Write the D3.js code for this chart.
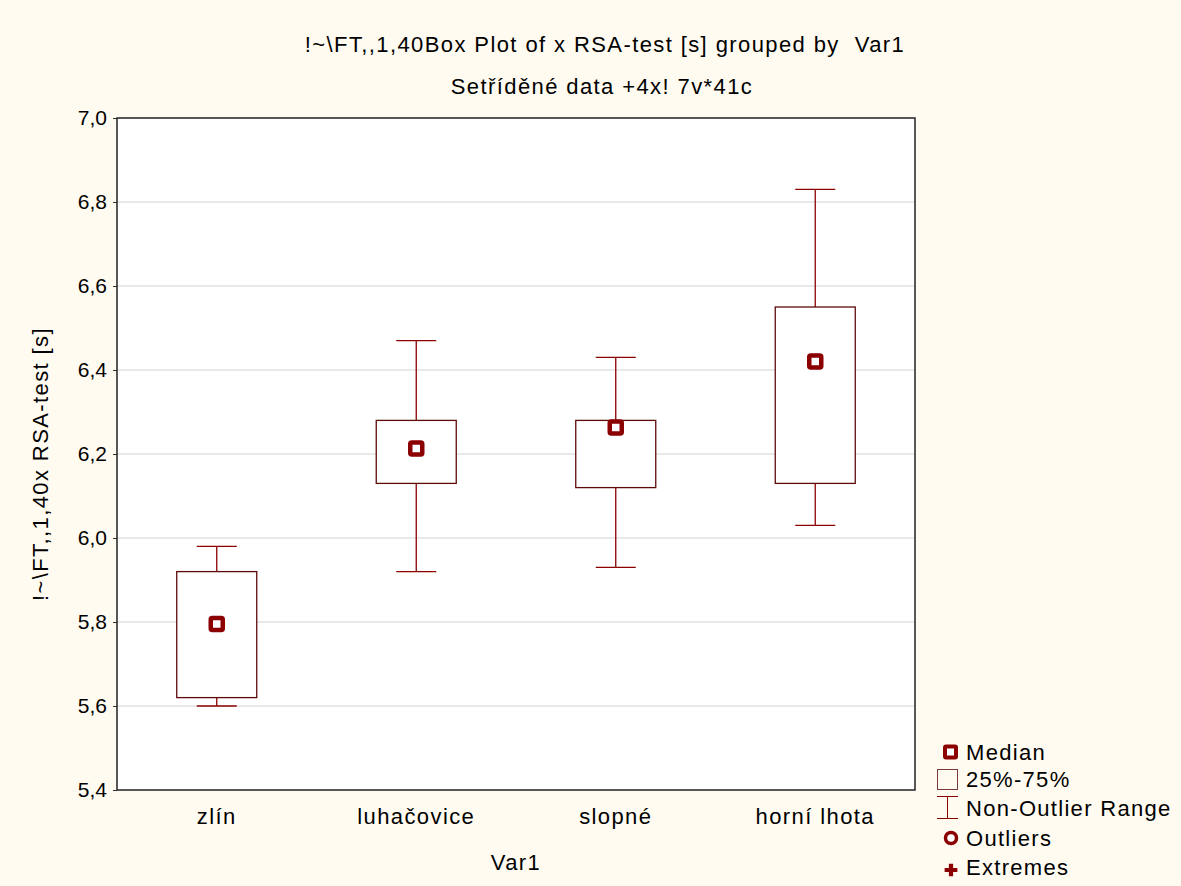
<!DOCTYPE html>
<html>
<head>
<meta charset="utf-8">
<script src="https://cdn.jsdelivr.net/npm/d3@7"></script>
<style>
body{margin:0;padding:0;background:#fffbf0;}
text{font-family:"Liberation Sans",Arial,sans-serif;fill:#000;}
</style>
</head>
<body>
<svg id="chart" width="1181" height="886"></svg>
<script>
const categories = ["zlín", "luhačovice", "slopné", "horní lhota"];
const whiskerMin = [5.60, 5.92, 5.93, 6.03];
const q1 = [5.62, 6.13, 6.12, 6.13];
const medians = [5.795, 6.213, 6.263, 6.42];
const q3 = [5.92, 6.28, 6.28, 6.55];
const whiskerMax = [5.98, 6.47, 6.43, 6.83];
const yTicks = [5.4, 5.6, 5.8, 6.0, 6.2, 6.4, 6.6, 6.8, 7.0];
const legendItems = ["Median", "25%-75%", "Non-Outlier Range", "Outliers", "Extremes"];

const svg = d3.select("#chart");
const W = 1181, H = 886;
const m = {left:117, top:118, right:915, bottom:790};
const red = "#8b0000", boxCol = "#5c0a0a";
const FS = "22px", LS = "1.4px";

svg.append("rect").attr("width", W).attr("height", H).attr("fill", "#fffbf0");

const x = d3.scaleBand().domain(categories).range([m.left, m.right]);
const y = d3.scaleLinear().domain([5.4, 7.0]).range([m.bottom, m.top]);

svg.append("rect").attr("x", m.left).attr("y", m.top)
  .attr("width", m.right - m.left).attr("height", m.bottom - m.top)
  .attr("fill", "#fff");

// grid
svg.append("g").selectAll("line").data(yTicks.slice(1, -1)).join("line")
  .attr("x1", m.left).attr("x2", m.right)
  .attr("y1", d => y(d)).attr("y2", d => y(d))
  .attr("stroke", "#e2e2e2").attr("stroke-width", 1.5);

// y axis
const yAxis = d3.axisLeft(y).tickValues(yTicks).tickSize(4).tickPadding(6)
  .tickFormat(d => d3.format(".1f")(d).replace(".", ","));
const gy = svg.append("g").attr("transform", `translate(${m.left},0)`).call(yAxis);
gy.select(".domain").remove();
gy.selectAll("line").attr("stroke", "#333");
gy.selectAll("text").style("font-size", "21px").style("font-family", '"Liberation Sans",Arial,sans-serif').attr("fill", "#000");

// x axis labels
const xAxis = d3.axisBottom(x).tickSize(0).tickPadding(18);
const gx = svg.append("g").attr("transform", `translate(0,${m.bottom})`).call(xAxis);
gx.select(".domain").remove();
gx.selectAll("text").style("font-size", FS).style("letter-spacing", LS)
  .style("font-family", '"Liberation Sans",Arial,sans-serif').attr("fill", "#000");

// frame
svg.append("rect").attr("x", m.left).attr("y", m.top)
  .attr("width", m.right - m.left).attr("height", m.bottom - m.top)
  .attr("fill", "none").attr("stroke", "#222").attr("stroke-width", 1.5);

const boxW = 80, capW = 40;
const data = categories.map((c, i) => ({c, lo: whiskerMin[i], q1: q1[i], med: medians[i], q3: q3[i], hi: whiskerMax[i]}));
const g = svg.append("g");
data.forEach(d => {
  const cx = x(d.c) + x.bandwidth() / 2;
  const cap = (v) => g.append("line").attr("x1", cx - capW/2).attr("x2", cx + capW/2)
    .attr("y1", y(v)).attr("y2", y(v)).attr("stroke", red).attr("stroke-width", 1.3);
  g.append("line").attr("x1", cx).attr("x2", cx).attr("y1", y(d.hi)).attr("y2", y(d.q3))
    .attr("stroke", red).attr("stroke-width", 1.3);
  g.append("line").attr("x1", cx).attr("x2", cx).attr("y1", y(d.q1)).attr("y2", y(d.lo))
    .attr("stroke", red).attr("stroke-width", 1.3);
  cap(d.hi); cap(d.lo);
  g.append("rect").attr("x", cx - boxW/2).attr("y", y(d.q3))
    .attr("width", boxW).attr("height", y(d.q1) - y(d.q3))
    .attr("fill", "#fff").attr("stroke", boxCol).attr("stroke-width", 1.3);
  g.append("rect").attr("x", cx - 6).attr("y", y(d.med) - 6).attr("width", 12).attr("height", 12)
    .attr("rx", 1.5).attr("fill", "#fff").attr("stroke", red).attr("stroke-width", 4.5);
});

// titles
svg.append("text").attr("x", 605).attr("y", 52).attr("text-anchor", "middle")
  .style("font-size", FS).style("letter-spacing", LS).style("white-space", "pre").attr("xml:space", "preserve")
  .text("!~\\FT,,1,40Box Plot of x RSA-test [s] grouped by  Var1");
svg.append("text").attr("x", 602).attr("y", 94).attr("text-anchor", "middle")
  .style("font-size", FS).style("letter-spacing", LS).text("Setříděné data +4x! 7v*41c");

svg.append("text").attr("transform", "translate(48,464) rotate(-90)").attr("text-anchor", "middle")
  .style("font-size", FS).style("letter-spacing", LS).text("!~\\FT,,1,40x RSA-test [s]");
svg.append("text").attr("x", 516).attr("y", 870).attr("text-anchor", "middle")
  .style("font-size", FS).style("letter-spacing", LS).text("Var1");

// legend
const lg = svg.append("g");
const ly = [752, 779, 808, 838, 867];
legendItems.forEach((t, i) => {
  lg.append("text").attr("x", 966).attr("y", ly[i] + 8).style("font-size", FS).style("letter-spacing", "1.3px").text(t);
});
lg.append("rect").attr("x", 945).attr("y", ly[0] - 5.5).attr("width", 11).attr("height", 11)
  .attr("rx", 1).attr("fill", "#fff").attr("stroke", red).attr("stroke-width", 4);
lg.append("rect").attr("x", 937.5).attr("y", 769.5).attr("width", 20).attr("height", 20)
  .attr("fill", "none").attr("stroke", "#7a3a3a").attr("stroke-width", 1);
lg.append("line").attr("x1", 937).attr("x2", 958).attr("y1", 796.5).attr("y2", 796.5).attr("stroke", red);
lg.append("line").attr("x1", 937).attr("x2", 958).attr("y1", 818.5).attr("y2", 818.5).attr("stroke", red);
lg.append("line").attr("x1", 947.5).attr("x2", 947.5).attr("y1", 796.5).attr("y2", 818.5).attr("stroke", red);
lg.append("circle").attr("cx", 951).attr("cy", ly[3]).attr("r", 5.5)
  .attr("fill", "#fff").attr("stroke", red).attr("stroke-width", 3.5);
lg.append("path").attr("d", d3.symbol(d3.symbolCross, 90)()).attr("transform", `translate(951,870)`)
  .attr("fill", red);
</script>
</body>
</html>
